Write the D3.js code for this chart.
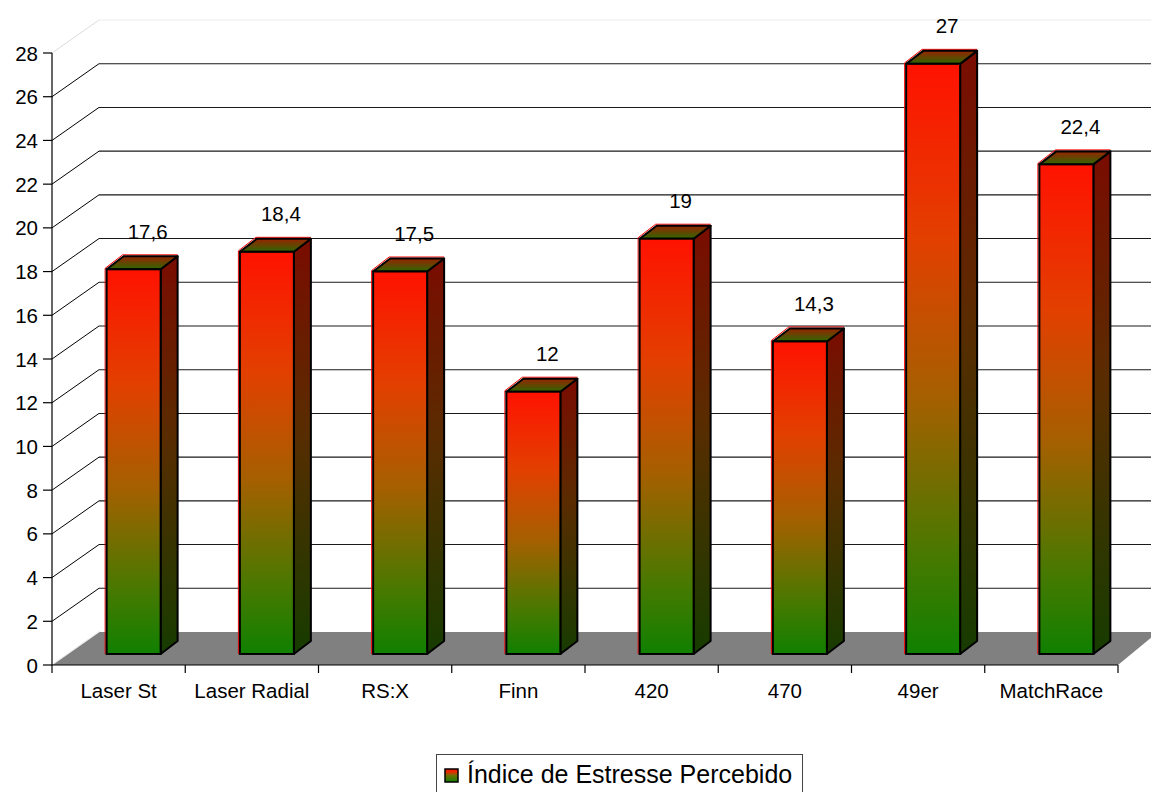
<!DOCTYPE html>
<html>
<head>
<meta charset="utf-8">
<script src="https://cdn.jsdelivr.net/npm/d3@7"></script>
<style>
  html, body { margin: 0; padding: 0; background: #fff; }
  svg { display: block; }
  text { font-family: "Liberation Sans", Arial, sans-serif; fill: #000; }
</style>
</head>
<body>
<svg id="chart" width="1151" height="792"></svg>
<script>
// ---- data ----
const categories = ["Laser St", "Laser Radial", "RS:X", "Finn", "420", "470", "49er", "MatchRace"];
const values = [17.6, 18.4, 17.5, 12, 19, 14.3, 27, 22.4];
const yTicks = [0, 2, 4, 6, 8, 10, 12, 14, 16, 18, 20, 22, 24, 26, 28];
const seriesName = "Índice de Estresse Percebido";

// ---- layout ----
const W = 1151, H = 792;
const plotLeft = 52, plotRight = 1118, plotBottom = 665, plotTop = 53;
const depth = { dx: 47, dy: -33 };          // wall depth vector
const barFront = { dx: 15, dy: -11 };       // bar front-face offset into depth
const barSide = { dx: 17, dy: -13 };        // bar own depth
const barWidth = 54;

const svg = d3.select("#chart");
const defs = svg.append("defs");

const x = d3.scaleBand().domain(categories).range([plotLeft, plotRight]).paddingInner(0).paddingOuter(0);
const y = d3.scaleLinear().domain([0, 28]).range([plotBottom, plotTop]);

// gradients
function grad(id, stops) {
  const gr = defs.append("linearGradient").attr("id", id)
    .attr("x1", 0).attr("y1", 0).attr("x2", 0).attr("y2", 1);
  stops.forEach(([o, c]) => gr.append("stop").attr("offset", o).attr("stop-color", c));
}
grad("gFront", [[0, "#ff1200"], [0.3, "#e24000"], [0.57, "#a46000"], [0.82, "#4c7800"], [1, "#108000"]]);
grad("gSide", [[0, "#7a0c00"], [0.45, "#5a2c00"], [1, "#163c00"]]);
grad("gTop", [[0, "#982400"], [1, "#2e6800"]]);
grad("gLegend", [[0, "#ff1200"], [0.25, "#e03000"], [0.5, "#707000"], [1, "#108000"]]);

const g = svg.append("g");

// ---- walls: gridlines ----
yTicks.forEach(v => {
  const yf = y(v);
  const isTop = v === 28, isZero = v === 0;
  const col = isTop ? "#dcdcdc" : (isZero ? "#d0d0d0" : "#000");
  g.append("line")
    .attr("x1", plotLeft).attr("y1", yf)
    .attr("x2", plotLeft + depth.dx).attr("y2", yf + depth.dy)
    .attr("stroke", col).attr("stroke-width", 1);
  if (!isZero) {
    g.append("line")
      .attr("x1", plotLeft + depth.dx).attr("y1", yf + depth.dy)
      .attr("x2", W + 20).attr("y2", yf + depth.dy)
      .attr("stroke", isTop ? "#ececec" : "#1a1a1a").attr("stroke-width", 1.1);
  }
});

// ---- floor ----
const y0 = y(0);
g.append("polygon")
  .attr("points", [
    [plotLeft, y0], [plotRight, y0],
    [plotRight + depth.dx * 0.85, y0 + depth.dy], [plotLeft + depth.dx, y0 + depth.dy]
  ].map(p => p.join(",")).join(" "))
  .attr("fill", "#808080");
g.append("line")
  .attr("x1", plotLeft + 1).attr("y1", y0 - 1).attr("x2", plotLeft + depth.dx + 1).attr("y2", y0 + depth.dy - 1)
  .attr("stroke", "#f0f0f0").attr("stroke-width", 1.2);

// ---- y axis ----
g.append("line").attr("x1", plotLeft).attr("y1", y(28)).attr("x2", plotLeft).attr("y2", y0)
  .attr("stroke", "#000").attr("stroke-width", 1.2);
const yAxis = g.append("g");
yTicks.forEach(v => {
  yAxis.append("line").attr("x1", plotLeft - 9).attr("x2", plotLeft).attr("y1", y(v)).attr("y2", y(v))
    .attr("stroke", "#000").attr("stroke-width", 1.2);
  yAxis.append("text").attr("x", 38).attr("y", y(v)).attr("text-anchor", "end")
    .attr("dominant-baseline", "central").attr("font-size", 20.5).text(v);
});

// ---- x axis ----
g.append("line").attr("x1", plotLeft).attr("x2", plotRight).attr("y1", y0).attr("y2", y0)
  .attr("stroke", "#000").attr("stroke-width", 1.2);
const bounds = categories.map(c => x(c)).concat([plotRight]);
bounds.forEach(bx => {
  g.append("line").attr("x1", bx).attr("x2", bx).attr("y1", y0).attr("y2", y0 + 8)
    .attr("stroke", "#000").attr("stroke-width", 1.2);
});
categories.forEach(c => {
  g.append("text").attr("x", x(c) + x.bandwidth() / 2).attr("y", 698)
    .attr("text-anchor", "middle").attr("font-size", 20.5).text(c);
});

// ---- bars ----
const bars = g.append("g");
categories.forEach((c, i) => {
  const v = values[i];
  const cx = x(c) + x.bandwidth() / 2 + barFront.dx;
  const l = cx - barWidth / 2, r = cx + barWidth / 2;
  const t = y(v) + barFront.dy, b = y0 + barFront.dy;
  const sx = barSide.dx, sy = barSide.dy;
  const bg = bars.append("g");
  bg.append("polyline")
    .attr("points", [[l - 1.5, b], [l - 1.5, t - 1], [l + sx - 1, t + sy - 1.5], [r + sx, t + sy - 1.5]].map(p => p.join(",")).join(" "))
    .attr("fill", "none").attr("stroke", "#ff0000").attr("stroke-width", 1);
  bg.append("polygon")
    .attr("points", [[r, t], [r + sx, t + sy], [r + sx, b + sy], [r, b]].map(p => p.join(",")).join(" "))
    .attr("fill", "url(#gSide)").attr("stroke", "#000").attr("stroke-width", 2).attr("stroke-linejoin", "round");
  bg.append("polygon")
    .attr("points", [[l, t], [l + sx, t + sy], [r + sx, t + sy], [r, t]].map(p => p.join(",")).join(" "))
    .attr("fill", "url(#gTop)").attr("stroke", "#000").attr("stroke-width", 2).attr("stroke-linejoin", "round");
  bg.append("rect").attr("x", l).attr("y", t).attr("width", r - l).attr("height", b - t)
    .attr("fill", "url(#gFront)").attr("stroke", "#000").attr("stroke-width", 2);
  bg.append("text").attr("x", cx + 14).attr("y", t - 38)
    .attr("text-anchor", "middle").attr("dominant-baseline", "central")
    .attr("font-size", 20.5).text(String(v).replace(".", ","));
});

// ---- legend ----
const lg = svg.append("g");
lg.append("rect").attr("x", 436.5).attr("y", 754.5).attr("width", 366).attr("height", 50)
  .attr("fill", "#fff").attr("stroke", "#444").attr("stroke-width", 1);
lg.append("rect").attr("x", 445).attr("y", 769).attr("width", 13).attr("height", 13)
  .attr("fill", "url(#gLegend)").attr("stroke", "#000").attr("stroke-width", 1.5);
lg.append("text").attr("x", 467).attr("y", 783).attr("font-size", 25).text(seriesName);
</script>
</body>
</html>
